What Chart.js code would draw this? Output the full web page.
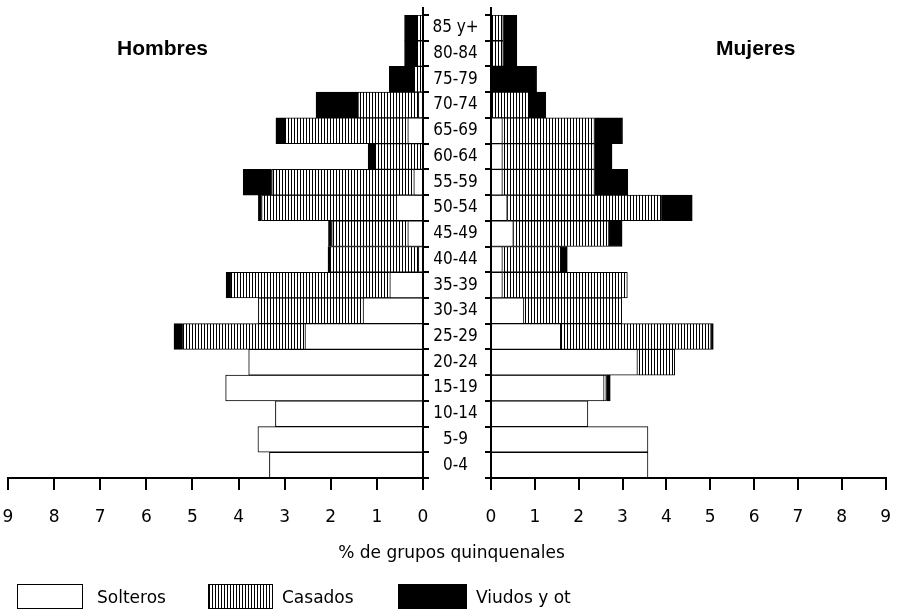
<!DOCTYPE html>
<html><head><meta charset="utf-8">
<script src="https://cdn.jsdelivr.net/npm/chart.js@4.4.1/dist/chart.umd.min.js"></script>
<style>
html,body{margin:0;padding:0;background:#fff;}
#wrap{position:relative;width:908px;height:610px;overflow:hidden;background:#fff;}
#wrap canvas{position:absolute;left:0;top:0;}
.t{position:absolute;white-space:nowrap;color:#000;}
.panel{font:bold 21px "Liberation Sans",Arial,sans-serif;line-height:21px;top:37px;}
#xtitle{font:17px "DejaVu Sans",sans-serif;line-height:20px;left:0;width:903px;text-align:center;top:542px;}
.lgbox{position:absolute;box-sizing:border-box;border:1.5px solid #000;top:584px;height:25px;}
.lgtxt{position:absolute;font:17px "DejaVu Sans",sans-serif;line-height:20px;top:587px;color:#000;white-space:nowrap;}
</style></head>
<body>
<div id="wrap">
  <canvas id="cL" width="908" height="610"></canvas>
  <canvas id="cR" width="908" height="610"></canvas>
  <div class="t panel" style="left:117px">Hombres</div>
  <div class="t panel" style="left:716px">Mujeres</div>
  <div class="t" id="xtitle">% de grupos quinquenales</div>
  <div id="legend"></div>
</div>
<script>
// ---- data ----
const ageGroups = ['0-4','5-9','10-14','15-19','20-24','25-29','30-34','35-39','40-44','45-49','50-54','55-59','60-64','65-69','70-74','75-79','80-84','85 y+'];
const seriesNames = ['Solteros','Casados','Viudos y ot'];
const xTickValues = [0,1,2,3,4,5,6,7,8,9];

const menSolteros = [3.33,3.58,3.20,4.28,3.78,2.56,1.30,0.72,0.10,0.33,0.58,0.20,0.00,0.33,0.10,0.00,0.00,0.00];
const menCasados  = [0.00,0.00,0.00,0.00,0.00,2.65,2.27,3.46,1.91,1.65,2.92,3.08,1.04,2.66,1.31,0.21,0.13,0.13];
const menViudos   = [0.00,0.00,0.00,0.00,0.00,0.19,0.00,0.09,0.05,0.07,0.07,0.62,0.15,0.20,0.91,0.52,0.27,0.27];

const womenSolteros = [3.58,3.58,2.21,2.58,3.34,1.59,0.75,0.26,0.26,0.51,0.37,0.26,0.26,0.26,0.00,0.00,0.00,0.00];
const womenCasados  = [0.00,0.00,0.00,0.05,0.85,3.43,2.23,2.85,1.33,2.18,3.52,2.10,2.10,2.10,0.86,0.00,0.28,0.28];
const womenViudos   = [0.00,0.00,0.00,0.09,0.00,0.05,0.00,0.00,0.15,0.30,0.70,0.76,0.40,0.64,0.39,1.04,0.31,0.31];

// ---- styling helpers ----
function hatchPattern(ctx){
  const c = document.createElement('canvas'); c.width = 3; c.height = 6;
  const x = c.getContext('2d');
  x.fillStyle = '#fff'; x.fillRect(0,0,3,6);
  x.fillStyle = '#000'; x.fillRect(0,0,1,6);
  return ctx.createPattern(c,'repeat');
}
const labelFont = {family:'"DejaVu Sans Condensed", "DejaVu Sans", sans-serif', size:17};
const tickFont = {family:'"DejaVu Sans", sans-serif', size:17};

const mctx = document.createElement('canvas').getContext('2d');
mctx.font = '17px "DejaVu Sans Condensed", "DejaVu Sans", sans-serif';
let widest = 0; ageGroups.forEach(l => { widest = Math.max(widest, mctx.measureText(l).width); });
const LEFT_RIGHT_EDGE = 423, LABEL_CENTER = 455.5, YTICK = 6;
const labelPad = Math.max(0, LABEL_CENTER - LEFT_RIGHT_EDGE - YTICK - widest/2);

const axisExt = {
  id:'axisExt',
  afterDraw(chart, args, opts){
    const {ctx, chartArea} = chart;
    const x = Math.round(opts.side === 'left' ? chartArea.right : chartArea.left);
    ctx.save(); ctx.strokeStyle = '#000'; ctx.lineWidth = 2;
    ctx.beginPath(); ctx.moveTo(x, chartArea.top - 8); ctx.lineTo(x, chartArea.top); ctx.stroke();
    ctx.restore();
  }
};

function datasets(ctx, s, c, v){
  const common = {borderColor:'#000', borderWidth:1, barPercentage:1, categoryPercentage:1};
  return [
    Object.assign({label:seriesNames[0], data:s, backgroundColor:'#fff'}, common),
    Object.assign({label:seriesNames[1], data:c, backgroundColor:hatchPattern(ctx)}, common),
    Object.assign({label:seriesNames[2], data:v, backgroundColor:'#000'}, common)
  ];
}

function xScale(reverse){
  return {
    type:'linear', stacked:true, reverse:reverse, min:0, max:9,
    afterBuildTicks: s => { s.ticks = xTickValues.map(v => ({value:v})); },
    afterFit: s => { s.height = 610 - 478; },
    grid:{drawOnChartArea:false, drawTicks:true, tickLength:12, color:'#000', lineWidth:2},
    border:{display:true, color:'#000', width:2, z:1},
    ticks:{color:'#000', font:tickFont, padding:17, maxRotation:0, autoSkip:false}
  };
}

const ctxL = document.getElementById('cL').getContext('2d');
new Chart(ctxL, {
  type:'bar',
  data:{labels:ageGroups, datasets:datasets(ctxL, menSolteros, menCasados, menViudos)},
  options:{
    indexAxis:'y', responsive:false, animation:false, devicePixelRatio:1,
    layout:{padding:{left:8, top:15, right:0, bottom:0}},
    plugins:{legend:{display:false}, tooltip:{enabled:false}, axisExt:{side:'left'}},
    scales:{
      x: xScale(true),
      y:{
        type:'category', stacked:true, position:'right', reverse:true, offset:true,
        afterFit: s => { s.width = 908 - LEFT_RIGHT_EDGE; },
        grid:{offset:true, drawOnChartArea:false, drawTicks:true, tickLength:YTICK, color:'#000', lineWidth:2},
        border:{display:true, color:'#000', width:2, z:1},
        ticks:{color:'#000', font:labelFont, crossAlign:'center', padding:labelPad, autoSkip:false}
      }
    }
  },
  plugins:[axisExt]
});

const ctxR = document.getElementById('cR').getContext('2d');
new Chart(ctxR, {
  type:'bar',
  data:{labels:ageGroups, datasets:datasets(ctxR, womenSolteros, womenCasados, womenViudos)},
  options:{
    indexAxis:'y', responsive:false, animation:false, devicePixelRatio:1,
    layout:{padding:{left:485, top:15, right:6, bottom:0}},
    plugins:{legend:{display:false}, tooltip:{enabled:false}, axisExt:{side:'right'}},
    scales:{
      x: xScale(false),
      y:{
        type:'category', stacked:true, position:'left', reverse:true, offset:true,
        afterFit: s => { s.width = YTICK; },
        grid:{offset:true, drawOnChartArea:false, drawTicks:true, tickLength:YTICK, color:'#000', lineWidth:2},
        border:{display:true, color:'#000', width:2, z:1},
        ticks:{display:false}
      }
    }
  },
  plugins:[axisExt]
});

// ---- HTML legend built from the series names ----
const legendBoxes = [{x:17,w:66,bg:'#fff'},{x:208,w:65,bg:'repeating-linear-gradient(90deg,#000 0 1px,#fff 1px 3px)'},{x:398,w:69,bg:'#000'}];
const legendText = [97, 282, 476];
const lg = document.getElementById('legend');
seriesNames.forEach((name, i) => {
  const b = document.createElement('div'); b.className = 'lgbox';
  b.style.left = legendBoxes[i].x + 'px'; b.style.width = legendBoxes[i].w + 'px'; b.style.background = legendBoxes[i].bg;
  lg.appendChild(b);
  const t = document.createElement('div'); t.className = 'lgtxt'; t.textContent = name;
  t.style.left = legendText[i] + 'px';
  lg.appendChild(t);
});
</script>
</body></html>
